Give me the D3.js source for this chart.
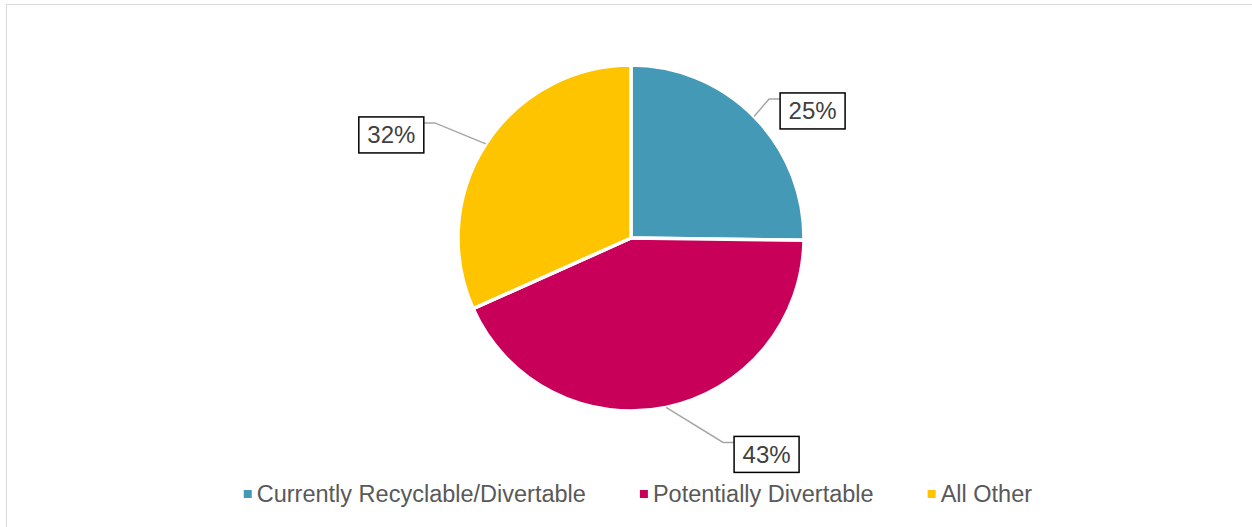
<!DOCTYPE html>
<html lang="en">
<head>
<meta charset="UTF-8">
<title>Pie chart</title>
<style>
  html, body { margin: 0; padding: 0; background: #fff; }
  svg { display: block; font-family: "Liberation Sans", Arial, sans-serif; }
</style>
</head>
<body>
<script src="https://d3js.org/d3.v7.min.js"></script>
<div id="chart"></div>
<script>
// data
const categories = ["Currently Recyclable/Divertable", "Potentially Divertable", "All Other"];
const shares = [25.2, 43.1, 31.7];
const labels = ["25%", "43%", "32%"];
const colors = ["#4499b7", "#c8005a", "#ffc400"];

const W = 1252, H = 527;
const cx = 631, cy = 238, radius = 173;

// where each leader line bends, relative to the point on the rim
const elbow = [[15, -17.5], [57, 35], [-51, -21]];
const run = 11;            // horizontal part of the leader
const boxW = 65, boxH = 36;

const svg = d3.select("#chart").append("svg")
  .attr("width", W)
  .attr("height", H);

// chart area frame
svg.append("rect")
  .attr("x", 6.5).attr("y", 4.5)
  .attr("width", W + 10).attr("height", H + 10)
  .attr("fill", "none")
  .attr("stroke", "#d9d9d9")
  .attr("stroke-width", 1);

const g = svg.append("g").attr("transform", `translate(${cx},${cy})`);

const pie = d3.pie().sort(null).value(d => d);
const arcs = pie(shares);
const arc = d3.arc().innerRadius(0).outerRadius(radius);

g.selectAll("path.slice")
  .data(arcs)
  .join("path")
  .attr("class", "slice")
  .attr("d", arc)
  .attr("fill", (d, i) => colors[i])
  .attr("stroke", "#fff")
  .attr("stroke-width", 3.5)
  .attr("stroke-linejoin", "round");

// labels with leader lines
arcs.forEach((d, i) => {
  const a = (d.startAngle + d.endAngle) / 2;
  const px = radius * Math.sin(a), py = -radius * Math.cos(a);
  const ex = px + elbow[i][0], ey = py + elbow[i][1];
  const dir = ex >= px ? 1 : -1;
  const bx = ex + dir * run;

  g.append("polyline")
    .attr("points", [[px, py], [ex, ey], [bx, ey]].map(p => p.join(",")).join(" "))
    .attr("fill", "none")
    .attr("stroke", "#a6a6a6")
    .attr("stroke-width", 1.5);

  const left = dir > 0 ? bx : bx - boxW;
  const top = ey - 6;
  g.append("rect")
    .attr("x", left).attr("y", top)
    .attr("width", boxW).attr("height", boxH)
    .attr("fill", "#fff")
    .attr("stroke", "#000")
    .attr("stroke-width", 1.5);

  g.append("text")
    .attr("x", left + boxW / 2)
    .attr("y", top + boxH / 2 + 8.5)
    .attr("text-anchor", "middle")
    .attr("font-size", 24)
    .attr("fill", "#404040")
    .text(labels[i]);
});

// legend
const legend = svg.append("g");
const items = legend.selectAll("g")
  .data(categories)
  .join("g");

items.append("rect")
  .attr("width", 8).attr("height", 8)
  .attr("y", -12)
  .attr("fill", (d, i) => colors[i]);

items.append("text")
  .attr("x", 13)
  .attr("y", 0)
  .attr("font-size", 23.5)
  .attr("fill", "#595959")
  .text(d => d);

const gap = 54;
let xPos = 0;
items.each(function () {
  const w = this.getBBox().width;
  d3.select(this).attr("transform", `translate(${xPos},0)`);
  xPos += w + gap;
});
const total = xPos - gap;
legend.attr("transform", `translate(${638 - total / 2},502)`);
</script>
</body>
</html>
